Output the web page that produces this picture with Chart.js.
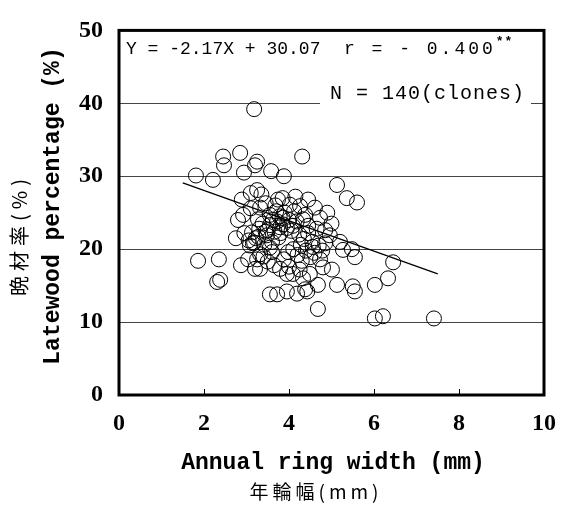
<!DOCTYPE html>
<html>
<head>
<meta charset="utf-8">
<script src="https://cdn.jsdelivr.net/npm/chart.js@4/dist/chart.umd.min.js"></script>
<style>
html,body{margin:0;padding:0;background:#fff;}
#wrap{width:570px;height:506px;position:relative;}
</style>
</head>
<body>
<div id="wrap"><canvas id="c" width="570" height="506"></canvas></div>
<script>
// Annual ring width (mm)
const ringWidth = [
3.18,1.81,2.21,2.45,2.47,2.85,3.25,3.20,2.94,3.58,
3.88,4.31,5.13,5.36,5.60,3.25,3.10,2.89,1.86,2.35,
2.87,2.31,2.38,6.45,6.02,6.33,6.02,6.21,7.41,4.68,
5.01,5.13,5.50,5.55,4.68,4.38,3.55,3.72,3.95,4.19,
4.43,5.27,5.48,5.55,4.73,4.49,3.20,3.32,3.04,3.79,
3.95,4.09,4.33,3.32,3.08,2.92,3.74,4.02,4.26,4.61,
4.38,4.73,4.45,4.85,4.96,4.56,3.32,3.27,3.55,3.13,
3.79,4.09,4.33,3.48,3.05,3.15,3.22,3.30,3.38,3.42,
3.50,3.55,3.60,3.62,3.66,3.70,3.72,3.75,3.78,3.80,
3.45,3.86,3.90,3.28,3.95,3.98,4.00,3.85,4.06,4.10,
4.12,3.18,4.18,4.20,4.24,4.28,4.30,4.35,4.40,4.45,
4.50,4.55,4.60,4.65,4.70,4.78,4.85,3.40,3.50,3.60,
3.65,3.88,4.00,3.25,3.10,3.45,3.85,4.15,4.45,3.35,
2.95,2.80,2.75,4.90,5.00,4.25,4.80,3.55,3.68,5.20
];
// Latewood percentage (%)
const latewoodPct = [
39.2,30.1,29.5,32.7,31.5,33.2,32.0,31.5,30.5,30.7,
30.0,32.7,28.8,27.0,26.4,28.1,27.7,26.8,18.4,18.6,
17.8,15.5,15.8,18.2,15.1,16.0,10.5,10.8,10.5,11.8,
17.2,15.1,14.9,14.2,15.1,14.5,13.8,13.8,14.2,13.9,
14.2,19.9,20.0,18.9,18.6,16.6,17.3,17.3,18.6,17.3,
16.6,16.6,16.0,19.3,20.5,24.7,26.8,26.1,25.9,25.7,
24.7,24.3,23.2,22.6,21.9,20.3,25.7,24.1,24.7,22.3,
23.0,23.2,24.1,21.9,21.2,20.8,21.5,22.8,23.5,20.6,
22.6,23.3,21.0,24.0,22.4,25.2,23.8,21.6,24.5,22.2,
22.4,23.4,25.0,21.7,22.9,19.6,24.0,24.3,22.5,20.0,
25.2,20.9,23.8,19.2,22.0,20.6,18.4,21.4,19.8,22.2,
18.9,21.0,19.5,22.8,20.5,19.8,20.8,19.0,18.3,19.6,
17.8,18.6,17.6,18.6,25.6,26.3,27.0,27.2,26.8,27.5,
22.2,24.0,21.5,25.0,23.5,17.2,17.5,20.2,26.0,21.0
];
// Regression line as drawn in the figure (end points)
const lineX = [1.5, 7.5];
const lineY = [29.1, 16.6];

const xTitle = "Annual ring width (mm)";
const xTitleJa = "年輪幅(mm)";
const yTitle = "Latewood percentage (%)";
const yTitleJa = "晩材率(%)";
const eqText = "Y = -2.17X + 30.07";
const rText = "r = - 0.400";
const rStars = "**";
const nText = "N = 140(clones)";

const pts = ringWidth.map((x,i)=>({x:x,y:latewoodPct[i]}));
const linePts = lineX.map((x,i)=>({x:x,y:lineY[i]}));

const TITLE_FONT = "bold 23px 'Liberation Mono', 'DejaVu Sans Mono', monospace";
const TICK_FONT = {family:"'Liberation Serif', serif", size:24, weight:'bold'};

function spaced(ctx, px){ if ('letterSpacing' in ctx) ctx.letterSpacing = px + 'px'; }

const decor = {
  id:'decor',
  beforeDatasetsDraw(chart){
    const ctx = chart.ctx;
    ctx.save();
    ctx.font = "20px 'Liberation Mono', monospace";
    spaced(ctx, 1);
    ctx.textBaseline = 'middle';
    const w = ctx.measureText(nText).width;
    ctx.fillStyle = '#fff';
    ctx.fillRect(320, 82, w+16, 24);
    ctx.fillStyle = '#000';
    ctx.fillText(nText, 330, 94);
    spaced(ctx, 0);
    ctx.restore();
  },
  afterDraw(chart){
    const ctx = chart.ctx, a = chart.chartArea;
    const xs = chart.scales.x;
    ctx.save();
    ctx.strokeStyle = '#000';
    ctx.lineWidth = 1;
    [2,4,6,8].forEach(v=>{
      const px = Math.round(xs.getPixelForValue(v))+0.5;
      ctx.beginPath(); ctx.moveTo(px, a.bottom); ctx.lineTo(px, a.bottom-6); ctx.stroke();
    });
    ctx.lineWidth = 3;
    ctx.strokeRect(a.left, a.top, a.right-a.left, a.bottom-a.top);
    ctx.fillStyle = '#000';
    ctx.textBaseline = 'middle';
    ctx.font = "18px 'Liberation Mono', monospace";
    ctx.fillText(eqText, 126, 49);
    spaced(ctx, 3);
    ctx.fillText(rText, 344, 49);
    const rw = ctx.measureText(rText).width;
    spaced(ctx, 1);
    ctx.font = "bold 13px 'Liberation Mono', monospace";
    ctx.fillText(rStars, 344+rw, 42);
    spaced(ctx, 0);
    ctx.font = TITLE_FONT;
    ctx.textAlign = 'center';
    ctx.fillText(xTitle, 333, 463);
    ctx.font = "19px 'Noto Sans CJK JP', sans-serif";
    spaced(ctx, 4);
    ctx.fillText(xTitleJa, 316, 492);
    spaced(ctx, 0);
    ctx.save();
    ctx.translate(53, 206);
    ctx.rotate(-Math.PI/2);
    ctx.font = TITLE_FONT;
    ctx.fillText(yTitle, 0, 0);
    ctx.restore();
    ctx.save();
    ctx.translate(19, 235);
    ctx.rotate(-Math.PI/2);
    ctx.font = "20px 'Noto Sans CJK JP', sans-serif";
    spaced(ctx, 5);
    ctx.fillText(yTitleJa, 0, 0);
    spaced(ctx, 0);
    ctx.restore();
    ctx.restore();
  }
};

new Chart(document.getElementById('c'), {
  type:'scatter',
  data:{
    datasets:[
      {
        type:'line',
        data:linePts,
        borderColor:'#000',
        borderWidth:1.3,
        pointRadius:0,
        fill:false,
        order:2
      },
      {
        data:pts,
        pointStyle:'circle',
        pointRadius:7.5,
        pointHoverRadius:7.5,
        backgroundColor:'rgba(0,0,0,0)',
        borderColor:'#000',
        borderWidth:1,
        order:1
      }
    ]
  },
  options:{
    responsive:false,
    animation:false,
    events:[],
    layout:{padding:{left:0,right:26,top:25,bottom:0}},
    plugins:{legend:{display:false},tooltip:{enabled:false}},
    scales:{
      x:{
        type:'linear', min:0, max:10,
        ticks:{stepSize:2, color:'#000', font:TICK_FONT, padding:14, maxRotation:0},
        grid:{display:false, drawTicks:false},
        border:{display:false},
        afterFit(s){ s.height = 111; }
      },
      y:{
        type:'linear', min:0, max:50,
        ticks:{stepSize:10, color:'#000', font:TICK_FONT, padding:16},
        grid:{color:(c)=> (c.tick && (c.tick.value===0||c.tick.value===50)) ? 'rgba(0,0,0,0)' : '#444', lineWidth:1, drawTicks:false},
        border:{display:false},
        afterFit(s){ s.width = 119; }
      }
    }
  },
  plugins:[decor]
});
</script>
</body>
</html>
